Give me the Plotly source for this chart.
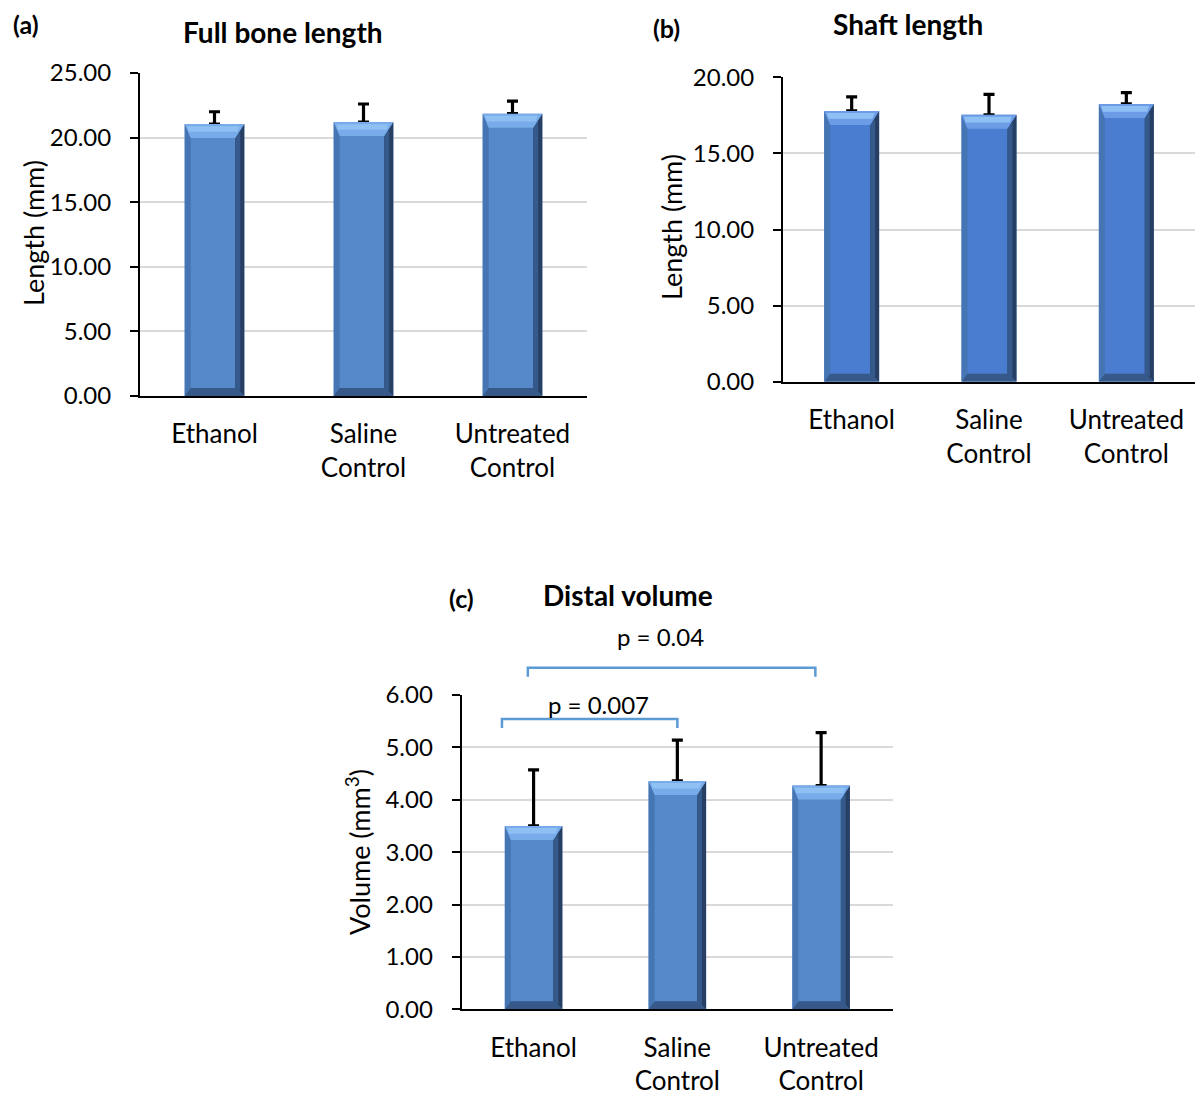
import plotly.graph_objects as go

# ---------------- data ----------------
categories = ["Ethanol", "Saline<br>Control", "Untreated<br>Control"]

full_bone_mean = [21.05, 21.20, 21.85]
full_bone_err = [0.95, 1.40, 0.97]

shaft_mean = [17.79, 17.54, 18.25]
shaft_err = [0.93, 1.34, 0.74]

distal_mean = [3.50, 4.36, 4.27]
distal_err = [1.07, 0.78, 1.01]

# significance brackets for (c): category-index positions, heights (mm^3)
bracket_x0 = [-0.22, -0.04]
bracket_x1 = [1.00, 1.96]
bracket_y = [5.54, 6.52]
bracket_leg = [5.37, 6.35]
bracket_text = ["p = 0.007", "p = 0.04"]
bracket_text_pos = [(598, 705), (660, 636)]   # pixel centres of the p-value labels

# ---------------- layout geometry (pixels) ----------------
W, H = 1204, 1097
panels = {
    # name: (x0px, x1px, ytop_px, ybot_px, ymax, dtick)
    "a": (140, 587, 73, 396, 25, 5),
    "b": (783, 1195, 77.3, 381.7, 20, 5),
    "c": (461.7, 893, 695, 1009.3, 6, 1),
}

FONT = "Lato"
TICK_SIZE = 24
CAT_SIZE = 26
BAR_W = 0.40

def px2paper_x(px):
    return px / W

def px2paper_y(py):
    return 1 - py / H

fig = go.Figure()
shapes = []

center_colors = {"a": "#5589C9", "b": "#4A7CCF", "c": "#5589C9"}
top_colors = {"a": "#78ABEA", "b": "#6C9CE6", "c": "#78ABEA"}

def add_bars(name, axis_suffix, means, errs):
    x0, x1, yt, yb, ymax, _ = panels[name]
    plot_w = x1 - x0
    plot_h = yb - yt
    cat_px = plot_w / 3.0
    u_per_px = ymax / plot_h
    sl = 6 / cat_px       # left bevel width (category units)
    sr = 9 / cat_px       # right bevel width
    tt = 14 * u_per_px    # top bevel height (data units)
    bt = 8 * u_per_px     # bottom bevel height
    n = len(means)
    xa = "x" + axis_suffix
    ya = "y" + axis_suffix
    fig.add_trace(go.Bar(
        x=categories, y=means, width=[BAR_W] * n, xaxis=xa, yaxis=ya,
        marker=dict(color=center_colors[name], line=dict(width=0)),
        error_y=dict(type="data", symmetric=False, array=errs, arrayminus=[0] * n,
                     color="black", thickness=3.2, width=5.5),
        showlegend=False, hoverinfo="skip"))

    def poly(pts, color):
        path = "M " + " L ".join("%f,%f" % p for p in pts) + " Z"
        shapes.append(dict(type="path", path=path, xref=xa, yref=ya,
                           fillcolor=color, line=dict(width=0), layer="above"))

    for i, v in enumerate(means):
        L = i - BAR_W / 2
        R = i + BAR_W / 2
        # left bevel
        poly([(L, 0), (L, v), (L + sl, v - tt), (L + sl, bt)], "#4675B3")
        # right bevel (dark)
        poly([(R, 0), (R, v), (R - sr, v - tt), (R - sr, bt)], "#263F63")
        poly([(R - sr * 0.45, bt * 0.55), (R - sr * 0.45, v - tt * 0.55),
              (R - sr, v - tt), (R - sr, bt)], "#35598A")
        # top bevel (light)
        poly([(L, v), (R, v), (R - sr, v - tt), (L + sl, v - tt)], top_colors[name])
        poly([(L + sl * 0.4, v - tt * 0.15), (R - sr * 0.5, v - tt * 0.15),
              (R - sr * 0.75, v - tt * 0.55), (L + sl * 0.7, v - tt * 0.55)], "#8FC0F4")
        # bottom bevel (dark)
        poly([(L, 0), (R, 0), (R - sr, bt), (L + sl, bt)], "#36598A")

add_bars("a", "", full_bone_mean, full_bone_err)
add_bars("b", "2", shaft_mean, shaft_err)
add_bars("c", "3", distal_mean, distal_err)

layout = dict(
    width=W, height=H,
    margin=dict(l=0, r=0, t=0, b=0, autoexpand=False),
    paper_bgcolor="white", plot_bgcolor="white",
    barmode="overlay",
    font=dict(family=FONT, size=TICK_SIZE, color="black"),
    showlegend=False,
)

for name, suf in (("a", ""), ("b", "2"), ("c", "3")):
    x0, x1, yt, yb, ymax, dt = panels[name]
    layout["xaxis" + suf] = dict(
        domain=[px2paper_x(x0), px2paper_x(x1)],
        anchor="y" + suf,
        type="category", range=[-0.5, 2.5],
        showline=True, linecolor="black", linewidth=2,
        ticks="outside", ticklen=14, tickcolor="rgba(0,0,0,0)",
        showgrid=False, zeroline=False,
        tickfont=dict(family=FONT, size=CAT_SIZE, color="black"),
        fixedrange=True,
    )
    layout["yaxis" + suf] = dict(
        domain=[px2paper_y(yb), px2paper_y(yt)],
        anchor="x" + suf,
        range=[0, ymax], dtick=dt, tick0=0, tickformat=".2f",
        showline=True, linecolor="black", linewidth=2,
        ticks="outside", ticklen=8, tickwidth=1.5, tickcolor="black",
        showgrid=True, gridcolor="#D9D9D9", gridwidth=1.8,
        zeroline=False,
        tickfont=dict(family=FONT, size=TICK_SIZE, color="black"),
        ticklabelstandoff=14,
        fixedrange=True,
    )

fig.update_layout(**layout)

annotations = []
def ann(text, px, py, size=TICK_SIZE, bold=False, angle=0):
    annotations.append(dict(
        text=("<b>%s</b>" % text) if bold else text,
        x=px2paper_x(px), y=px2paper_y(py), xref="paper", yref="paper",
        xanchor="center", yanchor="middle", showarrow=False,
        textangle=angle, font=dict(family=FONT, size=size, color="black")))

ann("(a)", 26, 24, size=25, bold=True)
ann("Full bone length", 283, 32, size=28, bold=True)
ann("(b)", 666, 28, size=25, bold=True)
ann("Shaft length", 908, 24, size=28, bold=True)
ann("(c)", 461, 598, size=25, bold=True)
ann("Distal volume", 628, 595, size=28, bold=True)
ann("Length (mm)", 33, 233, size=27, angle=-90)
ann("Length (mm)", 672, 227, size=27, angle=-90)
ann("Volume (mm<sup>3</sup>)", 358, 852, size=27, angle=-90)

# brackets for (c)
x0, x1, yt, yb, ymax, _ = panels["c"]
def cx(idx):
    return px2paper_x(x0 + (idx + 0.5) / 3.0 * (x1 - x0))
def cy(val):
    return px2paper_y(yb - val / ymax * (yb - yt))

for bx0, bx1, by, bl, txt, tpos in zip(bracket_x0, bracket_x1, bracket_y, bracket_leg,
                                        bracket_text, bracket_text_pos):
    path = "M %f,%f L %f,%f L %f,%f L %f,%f" % (cx(bx0), cy(bl), cx(bx0), cy(by),
                                                cx(bx1), cy(by), cx(bx1), cy(bl))
    shapes.append(dict(type="path", path=path, xref="paper", yref="paper",
                       line=dict(color="#5B9BD5", width=2.5)))
    ann(txt, tpos[0], tpos[1], size=TICK_SIZE)

fig.update_layout(annotations=annotations, shapes=shapes)

fig.write_html(
    "out.html",
    config={"displayModeBar": False},
    post_script="document.body.style.margin='0px';document.body.style.overflow='hidden';",
)
